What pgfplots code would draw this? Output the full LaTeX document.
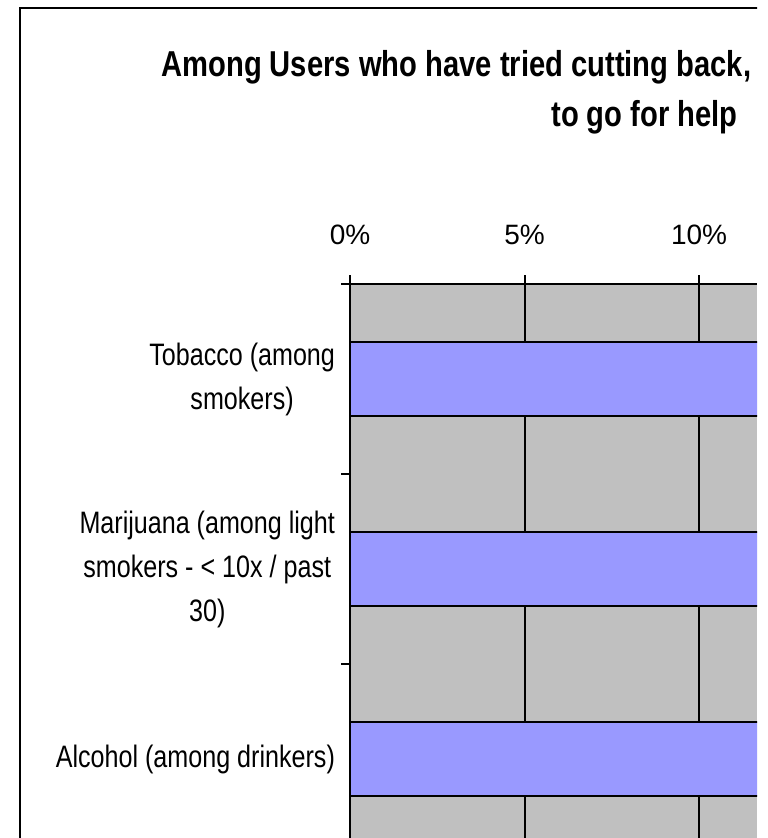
\documentclass[border=0pt]{standalone}
\usepackage{fontspec}
\setmainfont{Liberation Sans}
\newfontfamily\condfont{Liberation Sans}[FakeStretch=0.81]
\usepackage{pgfplots}
\pgfplotsset{compat=1.18}
\definecolor{plotgray}{HTML}{C0C0C0}
\definecolor{barblue}{HTML}{9999FF}
\begin{document}
\begin{tikzpicture}
\useasboundingbox (0,0) rectangle (383.5pt,-419pt);
\begin{scope}
\clip (0,0) rectangle (378.5pt,-419pt);
\draw[line width=1pt] (10pt,-430pt) -- (10pt,-4pt) -- (390pt,-4pt);
\node[anchor=base west, inner sep=0pt, font=\condfont\bfseries\fontsize{18}{22}\selectfont] at (80.5pt,-38.5pt) {Among Users who have tried cutting back,};
\node[anchor=base east, inner sep=0pt, font=\condfont\bfseries\fontsize{18}{22}\selectfont] at (369pt,-63.5pt) {to go for help};
\begin{axis}[
  at={(175pt,-142pt)}, anchor=north west,
  scale only axis, width=203.5pt, height=285pt,
  xmin=0, xmax=11.66, ymin=0.5, ymax=3.5, y dir=reverse,
  axis background/.style={fill=plotgray},
  axis x line*=top, axis y line*=left,
  axis line style={line width=1pt, black},
  xbar, bar width=0.39,
  xtick={0,5,10}, xticklabels={0\%,5\%,10\%},
  xticklabel style={font=\fontsize{14}{16}\selectfont, yshift=11.5pt},
  xmajorgrids, grid style={black, line width=1pt},
  tick align=outside, major tick length=4.5pt,
  tick style={black, line width=1pt},
  ytick={0.5,1.5,2.5,3.5}, yticklabels={},
  extra y ticks={1,2,3},
  extra y tick labels={{Tobacco (among\\smokers)},{Marijuana (among light\\smokers - < 10x / past\\30)},{Alcohol (among drinkers)}},
  extra y tick style={major tick length=0pt, yticklabel style={align=center, font=\condfont\fontsize{15.5}{22}\selectfont, xshift=-4pt}},
]
\addplot[fill=barblue, draw=black, line width=1pt] coordinates {(13,1) (12.5,2) (14,3)};
\end{axis}
\end{scope}
\end{tikzpicture}
\end{document}
